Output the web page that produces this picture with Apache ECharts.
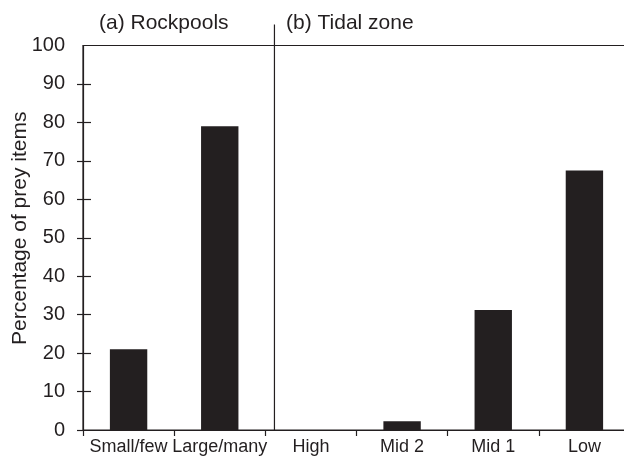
<!DOCTYPE html>
<html>
<head>
<meta charset="utf-8">
<script src="https://cdn.jsdelivr.net/npm/echarts@6/dist/echarts.min.js"></script>
<style>
html,body{margin:0;padding:0;background:#fff;overflow:hidden;}
#chart{width:624px;height:457px;}
</style>
</head>
<body>
<div id="chart"></div>
<script>
const categories = ['Small/few', 'Large/many', 'High', 'Mid 2', 'Mid 1', 'Low'];
const values = [21, 79, 0, 2.3, 31.2, 67.5];
const yTicks = [0, 10, 20, 30, 40, 50, 60, 70, 80, 90, 100];
const panelTitles = ['(a) Rockpools', '(b) Tidal zone'];
const yName = 'Percentage of prey items';

const ink = '#231f20';
const font = '"Liberation Sans", Arial, Helvetica, sans-serif';
const chart = echarts.init(document.getElementById('chart'), null, {renderer: 'canvas'});

const option = {
  backgroundColor: '#fff',
  animation: false,
  title: [
    {text: panelTitles[0], left: 99, top: 13, padding: 0,
     textStyle: {fontFamily: font, fontSize: 21, fontWeight: 'normal', color: ink}},
    {text: panelTitles[1], left: 286, top: 13, padding: 0,
     textStyle: {fontFamily: font, fontSize: 21, fontWeight: 'normal', color: ink}}
  ],
  grid: {left: 83, top: 45.5, width: 547, bottom: 27, containLabel: false,
         outerBoundsMode: 'none',
         show: true, borderColor: ink, borderWidth: 1.2, backgroundColor: 'transparent'},
  xAxis: {
    type: 'category', data: categories, boundaryGap: true,
    axisLine: {show: true, lineStyle: {color: ink, width: 1.2}},
    axisTick: {show: true, inside: false, length: 6, alignWithLabel: false, lineStyle: {color: ink, width: 1.2}},
    axisLabel: {color: ink, fontFamily: font, fontSize: 18, margin: 8, interval: 0, hideOverlap: false},
    splitLine: {show: false}
  },
  yAxis: [
    {
      type: 'value', min: 0, max: 100, interval: 10,
      name: yName, nameLocation: 'middle', nameGap: 52, nameRotate: 90,
      nameMoveOverlap: false,
      nameTextStyle: {color: ink, fontFamily: font, fontSize: 21, padding: [0, 0, 0, 19]},
      axisLine: {show: true, lineStyle: {color: ink, width: 1.2}},
      axisTick: {show: true, inside: false, length: 6, lineStyle: {color: ink, width: 1.2},
                 customValues: yTicks.slice(0, -1)},
      axisLabel: {color: ink, fontFamily: font, fontSize: 20, margin: 18},
      splitLine: {show: false}
    },
    {
      type: 'value', min: 0, max: 100, interval: 10, position: 'left',
      axisLine: {show: false},
      axisTick: {show: true, inside: true, length: 8, lineStyle: {color: ink, width: 1.2},
                 customValues: yTicks.slice(1, -1)},
      axisLabel: {show: false},
      splitLine: {show: false}
    }
  ],
  series: [{
    type: 'bar', data: values, barWidth: '41%', yAxisIndex: 0,
    itemStyle: {color: ink}
  }]
};
chart.setOption(option);

// divider between panels, placed from the axis scales
const p1 = chart.convertToPixel({xAxisIndex: 0}, categories[1]);
const p2 = chart.convertToPixel({xAxisIndex: 0}, categories[2]);
const dx = p1 + 0.6 * (p2 - p1);
const yTop = chart.convertToPixel({yAxisIndex: 0}, 100) - 21;
const yBot = chart.convertToPixel({yAxisIndex: 0}, 0);
chart.setOption({
  graphic: [{type: 'line', shape: {x1: dx, y1: yTop, x2: dx, y2: yBot},
             style: {stroke: ink, lineWidth: 1.2}, z: 10}]
});
</script>
</body>
</html>
